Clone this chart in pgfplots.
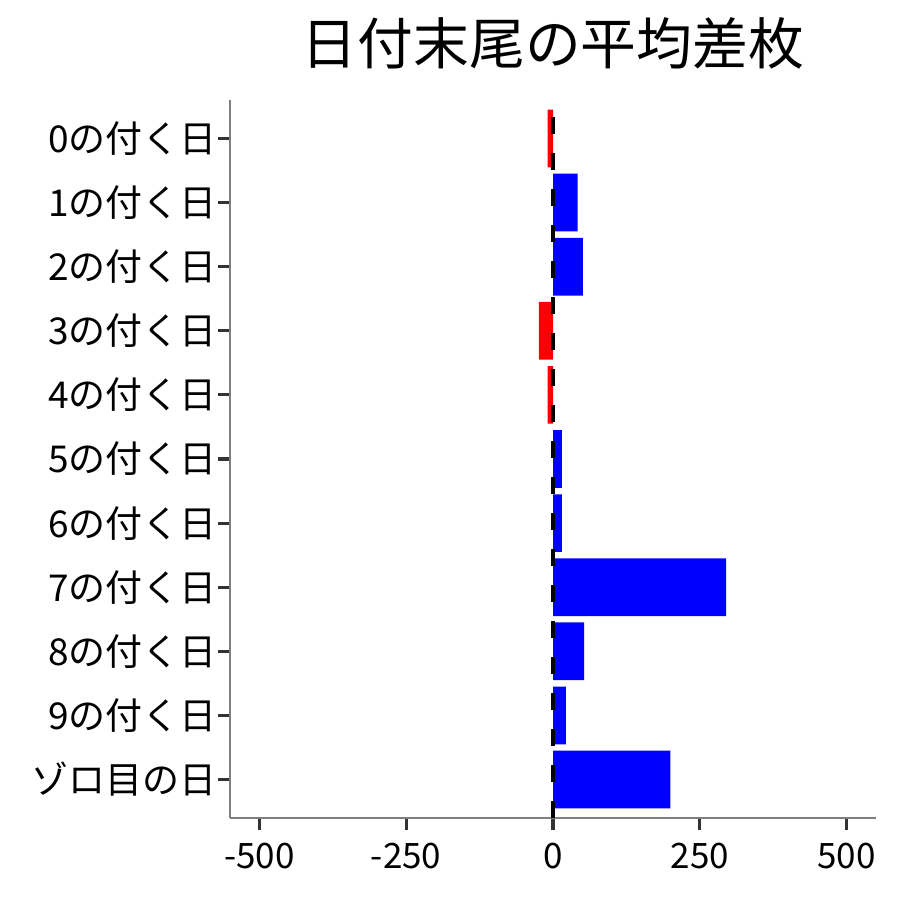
\documentclass[border=0pt]{standalone}
\usepackage{fontspec}
\setmainfont{Noto Sans CJK JP}
\usepackage{pgfplots}
\pgfplotsset{compat=1.18}

\definecolor{axgray}{HTML}{7F7F7F}
\definecolor{tickgray}{HTML}{333333}

\begin{document}
\begin{tikzpicture}
\path[use as bounding box] (-115bp,-41bp) rectangle (335bp,409bp);
\begin{axis}[
  scale only axis,
  width=323bp, height=359bp,
  at={(0,0)}, anchor=south west,
  xmin=-550, xmax=550,
  ymin=0.4, ymax=11.6,
  axis lines*=left,
  axis line style={axgray, line width=1bp},
  xtick={-500,-250,0,250,500},
  ytick={1,...,11},
  yticklabels={ゾロ目の日,9の付く日,8の付く日,7の付く日,6の付く日,5の付く日,4の付く日,3の付く日,2の付く日,1の付く日,0の付く日},
  tick align=outside,
  major tick length=6bp,
  tick style={tickgray, line width=1.6bp},
  /pgf/number format/assume math mode=true,
  xticklabel style={font=\fontsize{17.5bp}{20bp}\selectfont, black, yshift=-3bp},
  yticklabel style={font=\fontsize{18.5bp}{21bp}\selectfont, black, xshift=3bp},
  title={日付末尾の平均差枚},
  title style={font=\fontsize{27.9bp}{32bp}\selectfont, at={(0.5,1)}, anchor=center, yshift=22.5bp},
]
% negative means
\addplot[xbar, bar width=0.9, bar shift=0pt, fill=red, draw=none]
  coordinates {(-9,11) (-24,8) (-9,7)};
% positive means
\addplot[xbar, bar width=0.9, bar shift=0pt, fill=blue, draw=none]
  coordinates {(42,10) (51,9) (15,6) (15,5) (295,4) (53,3) (22,2) (200,1)};
% zero line
\addplot[black, line width=2bp, dash pattern=on 8.5bp off 9.5bp, mark=none]
  coordinates {(0,0.4) (0,11.6)};
\end{axis}
\end{tikzpicture}
\end{document}
